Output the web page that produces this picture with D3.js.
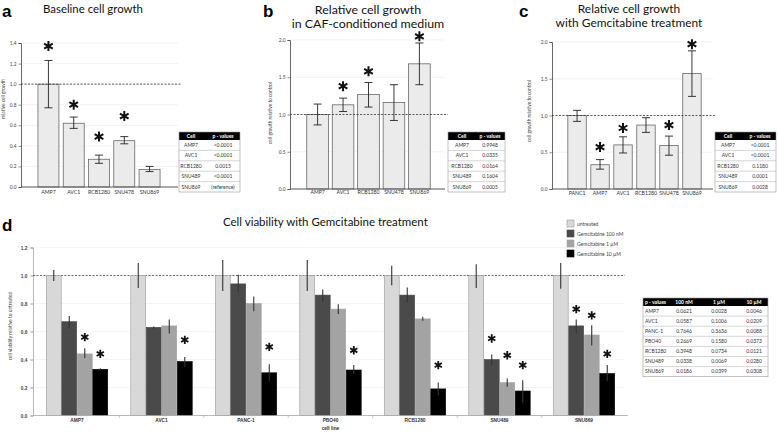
<!DOCTYPE html>
<html><head><meta charset="utf-8">
<script src="https://cdn.jsdelivr.net/npm/d3@7"></script>
<style>
body{margin:0;background:#fff;}
svg{display:block;}
</style></head>
<body>
<svg id="chart" width="778" height="433"></svg>
<script>
// ---------- DATA ----------
const catsA = ["AMP7","AVC1","RCB1280","SNU478","SNU869"];
const valA  = [1.00,0.62,0.27,0.45,0.17];
const loA   = [0.77,0.57,0.23,0.42,0.15];
const hiA   = [1.23,0.68,0.31,0.49,0.20];
const starA = [1.37,0.80,0.49,0.69,null];
const ticksA = [0,0.2,0.4,0.6,0.8,1.0,1.2,1.4];
const tableA = [["AMP7","<0.0001"],["AVC1","<0.0001"],["RCB1280","0.0015"],["SNU489","<0.0001"],["SNU869","(reference)"]];

const catsB = ["AMP7","AVC1","RCB1280","SNU478","SNU869"];
const valB  = [1.00,1.13,1.27,1.16,1.68];
const loB   = [0.86,1.04,1.10,0.92,1.40];
const hiB   = [1.14,1.22,1.43,1.40,1.96];
const starB = [null,1.38,1.58,null,2.05];
const ticksB = [0,0.5,1.0,1.5,2.0];
const tableB = [["AMP7","0.9948"],["AVC1","0.0335"],["RCB1280","0.0164"],["SNU489","0.1604"],["SNU869","0.0005"]];

const catsC = ["PANC1","AMP7","AVC1","RCB1280","SNU478","SNU869"];
const valC  = [1.00,0.33,0.60,0.87,0.59,1.57];
const loC   = [0.92,0.27,0.49,0.77,0.46,1.26];
const hiC   = [1.07,0.40,0.71,0.97,0.72,1.88];
const starC = [null,0.57,0.83,null,0.87,1.97];
const ticksC = [0,0.5,1.0,1.5,2.0];
const tableC = [["AMP7","<0.0001"],["AVC1","<0.0001"],["RCB1280","0.1180"],["SNU489","0.0001"],["SNU869","0.0028"]];

const catsD = ["AMP7","AVC1","PANC-1","PBO40","RCB1280","SNU489","SNU869"];
const seriesD = ["untreated","Gemcitabine 100 nM","Gemcitabine 1 µM","Gemcitabine 10 µM"];
const untreatedVal = [1,1,1,1,1,1,1];
const untreatedLo  = [0.96,0.91,0.89,0.89,0.93,0.91,0.905];
const untreatedHi  = [1.04,1.09,1.11,1.11,1.07,1.08,1.09];
const g100Val = [0.67,0.63,0.94,0.86,0.86,0.40,0.64];
const g100Lo  = [0.62,0.62,0.88,0.815,0.81,0.36,0.585];
const g100Hi  = [0.71,0.635,1.005,0.90,0.915,0.435,0.685];
const g100Star = [null,null,null,null,null,0.55,0.76];
const g1Val = [0.44,0.64,0.80,0.76,0.69,0.235,0.575];
const g1Lo  = [0.41,0.585,0.745,0.725,0.677,0.205,0.50];
const g1Hi  = [0.48,0.685,0.85,0.795,0.705,0.265,0.645];
const g1Star = [0.56,null,null,null,null,0.43,0.715];
const g10Val = [0.33,0.385,0.305,0.325,0.19,0.175,0.30];
const g10Lo  = [0.323,0.347,0.242,0.292,0.145,0.09,0.247];
const g10Hi  = [0.337,0.418,0.366,0.36,0.235,0.252,0.36];
const g10Star = [0.44,0.54,0.49,0.466,0.36,0.36,0.44];
const ticksD = [0,0.2,0.4,0.6,0.8,1.0,1.2];
const tableDHeader = ["p - values","100 nM","1 µM","10 µM"];
const tableD = [
  ["AMP7","0.0621","0.0028","0.0046"],
  ["AVC1","0.0587","0.1006","0.0209"],
  ["PANC-1","0.7646","0.3636","0.0088"],
  ["PBO40","0.2669","0.1580","0.0373"],
  ["RCB1280","0.3948","0.0734","0.0121"],
  ["SNU489","0.0338","0.0069","0.0280"],
  ["SNU869","0.0186","0.0399","0.0308"]
];

// ---------- DRAW ----------
const svg = d3.select("#chart");
const TF = "Lato, 'Open Sans', sans-serif";
const SF = "'Liberation Sans', Arial, sans-serif";

const asterisk = {draw(ctx, size){
  const r = Math.sqrt(size)/2, t = r/2, u = t*Math.sqrt(3);
  ctx.moveTo(0,r); ctx.lineTo(0,-r);
  ctx.moveTo(-u,-t); ctx.lineTo(u,t);
  ctx.moveTo(-u,t); ctx.lineTo(u,-t);
}};

function fitText(sel, w){
  const n = sel.node(); const L = n.getComputedTextLength();
  const fs = parseFloat(sel.attr("font-size"));
  if (L>0) sel.attr("font-size", fs*w/L);
}

function title(x, y, txt, size, w, anchor){
  const t = svg.append("text").attr("x",x).attr("y",y).attr("font-family",TF)
    .attr("font-size",size).attr("fill","#111").attr("text-anchor",anchor||"middle").text(txt);
  if (w) fitText(t, w);
  return t;
}
function title2(x, y1, y2, l1, l2, w1, w2){
  const a = title(x, y1, l1, 12, w1), b = title(x, y2, l2, 12, w2);
  const fs = (parseFloat(a.attr("font-size")) + parseFloat(b.attr("font-size")))/2;
  a.attr("font-size", fs); b.attr("font-size", fs);
}
function letter(x,y,l){
  svg.append("text").attr("x",x).attr("y",y).attr("font-family",SF).attr("font-weight","bold")
    .attr("font-size",17).attr("fill","#000").text(l);
}

function drawTable(x, y, w, colCenters, header, rows, hH, rH, leftAlignFirst){
  const g = svg.append("g");
  const H = hH + rows.length*rH;
  g.append("rect").attr("x",x).attr("y",y).attr("width",w).attr("height",hH).attr("fill","#000");
  g.append("rect").attr("x",x).attr("y",y).attr("width",w).attr("height",H)
    .attr("fill","none").attr("stroke","#999").attr("stroke-width",0.6);
  rows.forEach((r,i)=>{
    const ry = y+hH+i*rH;
    if (i>0) g.append("line").attr("x1",x).attr("x2",x+w).attr("y1",ry).attr("y2",ry).attr("stroke","#aaa").attr("stroke-width",0.5);
    r.forEach((c,j)=>{
      const lf = leftAlignFirst && j===0;
      g.append("text").attr("x", lf ? x+2 : colCenters[j]).attr("y",ry+rH*0.68)
        .attr("text-anchor", lf?"start":"middle").attr("font-family",TF).attr("font-size",5)
        .attr("fill","#333").text(c);
    });
  });
  header.forEach((c,j)=>{
    const lf = leftAlignFirst && j===0;
    g.append("text").attr("x", lf ? x+2 : colCenters[j]).attr("y",y+hH*0.72)
      .attr("text-anchor", lf?"start":"middle").attr("font-family",TF).attr("font-size",5)
      .attr("font-weight","bold").attr("fill","#fff").text(c);
  });
}

function simplePanel(cfg){
  const {cats, vals, lo, hi, stars, ticks, x0, x1, y0, y1, dmax, pi, po, xEnd, ylabel, ylx, yly, labY, fmt} = cfg;
  const x = d3.scaleBand().domain(cats).range([x0,x1]).paddingInner(pi).paddingOuter(po);
  const y = d3.scaleLinear().domain([0,dmax]).range([y0,y1]);
  const g = svg.append("g");
  g.selectAll(".gl").data(ticks.filter(t=>t>0)).join("line")
    .attr("x1",x0).attr("x2",xEnd).attr("y1",d=>y(d)).attr("y2",d=>y(d))
    .attr("stroke","#ececec").attr("stroke-width",0.7);
  const ya = g.append("g").attr("transform",`translate(${x0},0)`)
    .call(d3.axisLeft(y).tickValues(ticks).tickSize(2.5).tickPadding(2).tickFormat(d3.format(fmt)));
  ya.select(".domain").attr("stroke","#444").attr("stroke-width",0.8);
  ya.selectAll(".tick line").attr("stroke","#444").attr("stroke-width",0.6);
  ya.selectAll("text").attr("font-size",4.8).attr("font-family",TF).attr("fill","#444");
  g.selectAll(".bar").data(cats).join("rect")
    .attr("x",d=>x(d)).attr("width",x.bandwidth())
    .attr("y",(d,i)=>y(vals[i])).attr("height",(d,i)=>y(0)-y(vals[i]))
    .attr("fill","#ebebeb").attr("stroke","#555").attr("stroke-width",0.7);
  g.append("line").attr("x1",x0).attr("x2",xEnd+3).attr("y1",y(1)).attr("y2",y(1))
    .attr("stroke","#333").attr("stroke-width",0.8).attr("stroke-dasharray","2,1.5");
  g.append("line").attr("x1",x0).attr("x2",xEnd).attr("y1",y(0)).attr("y2",y(0))
    .attr("stroke","#555").attr("stroke-width",1.2);
  const cw = 4;
  cats.forEach((c,i)=>{
    const cx = x(c)+x.bandwidth()/2;
    g.append("line").attr("x1",cx).attr("x2",cx).attr("y1",y(lo[i])).attr("y2",y(hi[i])).attr("stroke","#222").attr("stroke-width",0.9);
    [lo[i],hi[i]].forEach(v=>g.append("line").attr("x1",cx-cw).attr("x2",cx+cw).attr("y1",y(v)).attr("y2",y(v)).attr("stroke","#222").attr("stroke-width",0.9));
    if (stars[i]!=null){
      g.append("path").attr("d",d3.symbol(asterisk,100)()).attr("transform",`translate(${cx},${y(stars[i])})`)
        .attr("stroke","#111").attr("stroke-width",2).attr("fill","none");
    }
    g.append("text").attr("x",cx).attr("y",labY).attr("text-anchor","middle").attr("font-family",TF)
      .attr("font-size",5.2).attr("fill","#333").text(c);
  });
  g.append("text").attr("transform",`translate(${ylx},${yly}) rotate(-90)`).attr("text-anchor","middle")
    .attr("font-family",TF).attr("font-size",4.8).attr("fill","#444").text(ylabel);
}

// Panel a
letter(2,17,"a");
title(43,13,"Baseline cell growth",11,100,"start");
simplePanel({cats:catsA, vals:valA, lo:loA, hi:hiA, stars:starA, ticks:ticksA,
  x0:21, x1:177, y0:187, y1:43, dmax:1.4, pi:0.17, po:0.67, xEnd:178,
  ylabel:"relative cell growth", ylx:5, yly:99, labY:194, fmt:".1f"});
drawTable(179,132,61,[191,223],["Cell","p - values"],tableA,8,10.4,false);

// Panel b
letter(263,17,"b");
title2(368,14,28,"Relative cell growth","in CAF-conditioned medium",118,136);
simplePanel({cats:catsB, vals:valB, lo:loB, hi:hiB, stars:starB, ticks:ticksB,
  x0:290, x1:447, y0:189, y1:40, dmax:2.0, pi:0.15, po:0.66, xEnd:445,
  ylabel:"cell growth relative to control", ylx:272, yly:113, labY:194, fmt:".1f"});
drawTable(448,132,57,[462,490],["Cell","p - values"],tableB,8,10.4,false);

// Panel c
letter(519,17,"c");
title2(629,13,26.5,"Relative cell growth","with Gemcitabine treatment",106,142);
simplePanel({cats:catsC, vals:valC, lo:loC, hi:hiC, stars:starC, ticks:ticksC,
  x0:552, x1:717, y0:189, y1:42, dmax:2.0, pi:0.2, po:0.69, xEnd:713,
  ylabel:"cell growth relative to control", ylx:531, yly:111, labY:195, fmt:".1f"});
drawTable(715,132,61,[728,760],["Cell","p - values"],tableC,8,10.4,false);

// Panel d
letter(2,231,"d");
title(223,226,"Cell viability with Gemcitabine treatment",13,205,"start");
(function(){
  const x0 = 33, x1 = 628;
  const y = d3.scaleLinear().domain([0,1.2]).range([415.5,247.5]);
  const x = d3.scaleBand().domain(catsD).range([x0,x1]).paddingInner(0.266).paddingOuter(0.154);
  const xs = d3.scaleBand().domain(seriesD).range([0,x.bandwidth()]);
  const colors = d3.scaleOrdinal().domain(seriesD).range(["#d8d8d8","#4a4a4a","#a3a3a3","#000000"]);
  const strokes = d3.scaleOrdinal().domain(seriesD).range(["#9a9a9a","#4a4a4a","#a3a3a3","#000000"]);
  const vals = [untreatedVal,g100Val,g1Val,g10Val];
  const los = [untreatedLo,g100Lo,g1Lo,g10Lo];
  const his = [untreatedHi,g100Hi,g1Hi,g10Hi];
  const stars = [catsD.map(()=>null),g100Star,g1Star,g10Star];
  const g = svg.append("g");
  g.selectAll(".gl").data(ticksD.filter(t=>t>0)).join("line")
    .attr("x1",x0).attr("x2",x1-3).attr("y1",d=>y(d)).attr("y2",d=>y(d))
    .attr("stroke","#f0f0f0").attr("stroke-width",0.7);
  const ya = g.append("g").attr("transform",`translate(${x0},0)`)
    .call(d3.axisLeft(y).tickValues(ticksD).tickSize(2.5).tickPadding(3).tickFormat(d3.format(".1f")));
  ya.select(".domain").attr("stroke","#999").attr("stroke-width",0.7);
  ya.selectAll(".tick line").attr("stroke","#999");
  ya.selectAll("text").attr("font-size",4.8).attr("font-family",SF).attr("font-weight","bold").attr("fill","#444");
  g.append("line").attr("x1",x0).attr("x2",x1-3).attr("y1",y(1)).attr("y2",y(1))
    .attr("stroke","#444").attr("stroke-width",0.8).attr("stroke-dasharray","2,1.5");
  seriesD.forEach((s,si)=>{
    catsD.forEach((c,ci)=>{
      const bx = x(c)+xs(s);
      g.append("rect").attr("x",bx+0.3).attr("width",xs.bandwidth()-0.6)
        .attr("y",y(vals[si][ci])).attr("height",y(0)-y(vals[si][ci]))
        .attr("fill",colors(s)).attr("stroke",strokes(s)).attr("stroke-width",0.6);
    });
  });
  seriesD.forEach((s,si)=>{
    catsD.forEach((c,ci)=>{
      const cx = x(c)+xs(s)+xs.bandwidth()/2;
      g.append("line").attr("x1",cx).attr("x2",cx).attr("y1",y(los[si][ci])).attr("y2",y(his[si][ci]))
        .attr("stroke","#333").attr("stroke-width",1.1);
      if (stars[si][ci]!=null){
        g.append("path").attr("d",d3.symbol(asterisk,70)()).attr("transform",`translate(${cx},${y(stars[si][ci])})`)
          .attr("stroke","#111").attr("stroke-width",1.8).attr("fill","none");
      }
    });
  });
  g.append("line").attr("x1",x0).attr("x2",x1).attr("y1",y(0)).attr("y2",y(0)).attr("stroke","#aaa").attr("stroke-width",0.8);
  const gap = x.step()-x.bandwidth();
  catsD.slice(1).forEach(c=>{
    const tx = x(c)-gap/2;
    g.append("line").attr("x1",tx).attr("x2",tx).attr("y1",y(0)).attr("y2",y(0)+2.5).attr("stroke","#aaa").attr("stroke-width",0.6);
  });
  catsD.forEach(c=>{
    g.append("text").attr("x",x(c)+x.bandwidth()/2).attr("y",422).attr("text-anchor","middle")
      .attr("font-family",SF).attr("font-weight","bold").attr("font-size",4.8).attr("fill","#333").text(c);
  });
  g.append("text").attr("x",x(catsD[3])+x.bandwidth()/2).attr("y",430).attr("text-anchor","middle")
    .attr("font-family",SF).attr("font-weight","bold").attr("font-size",4.8).attr("fill","#333").text("cell line");
  g.append("text").attr("transform",`translate(12,326) rotate(-90)`).attr("text-anchor","middle")
    .attr("font-family",TF).attr("font-size",4.8).attr("fill","#444").text("cell viability relative to untreated");
  const lg = svg.append("g");
  seriesD.forEach((s,i)=>{
    lg.append("rect").attr("x",567).attr("y",220+i*10).attr("width",7).attr("height",7)
      .attr("fill",colors(s)).attr("stroke",i===0?"#999":colors(s)).attr("stroke-width",0.6);
    lg.append("text").attr("x",577).attr("y",225.5+i*10).attr("font-family",TF).attr("font-size",5)
      .attr("fill","#444").text(s);
  });
  drawTable(643,298,125,[0,684,719,754],tableDHeader,tableD,8,10.1,true);
})();
</script>
</body></html>
